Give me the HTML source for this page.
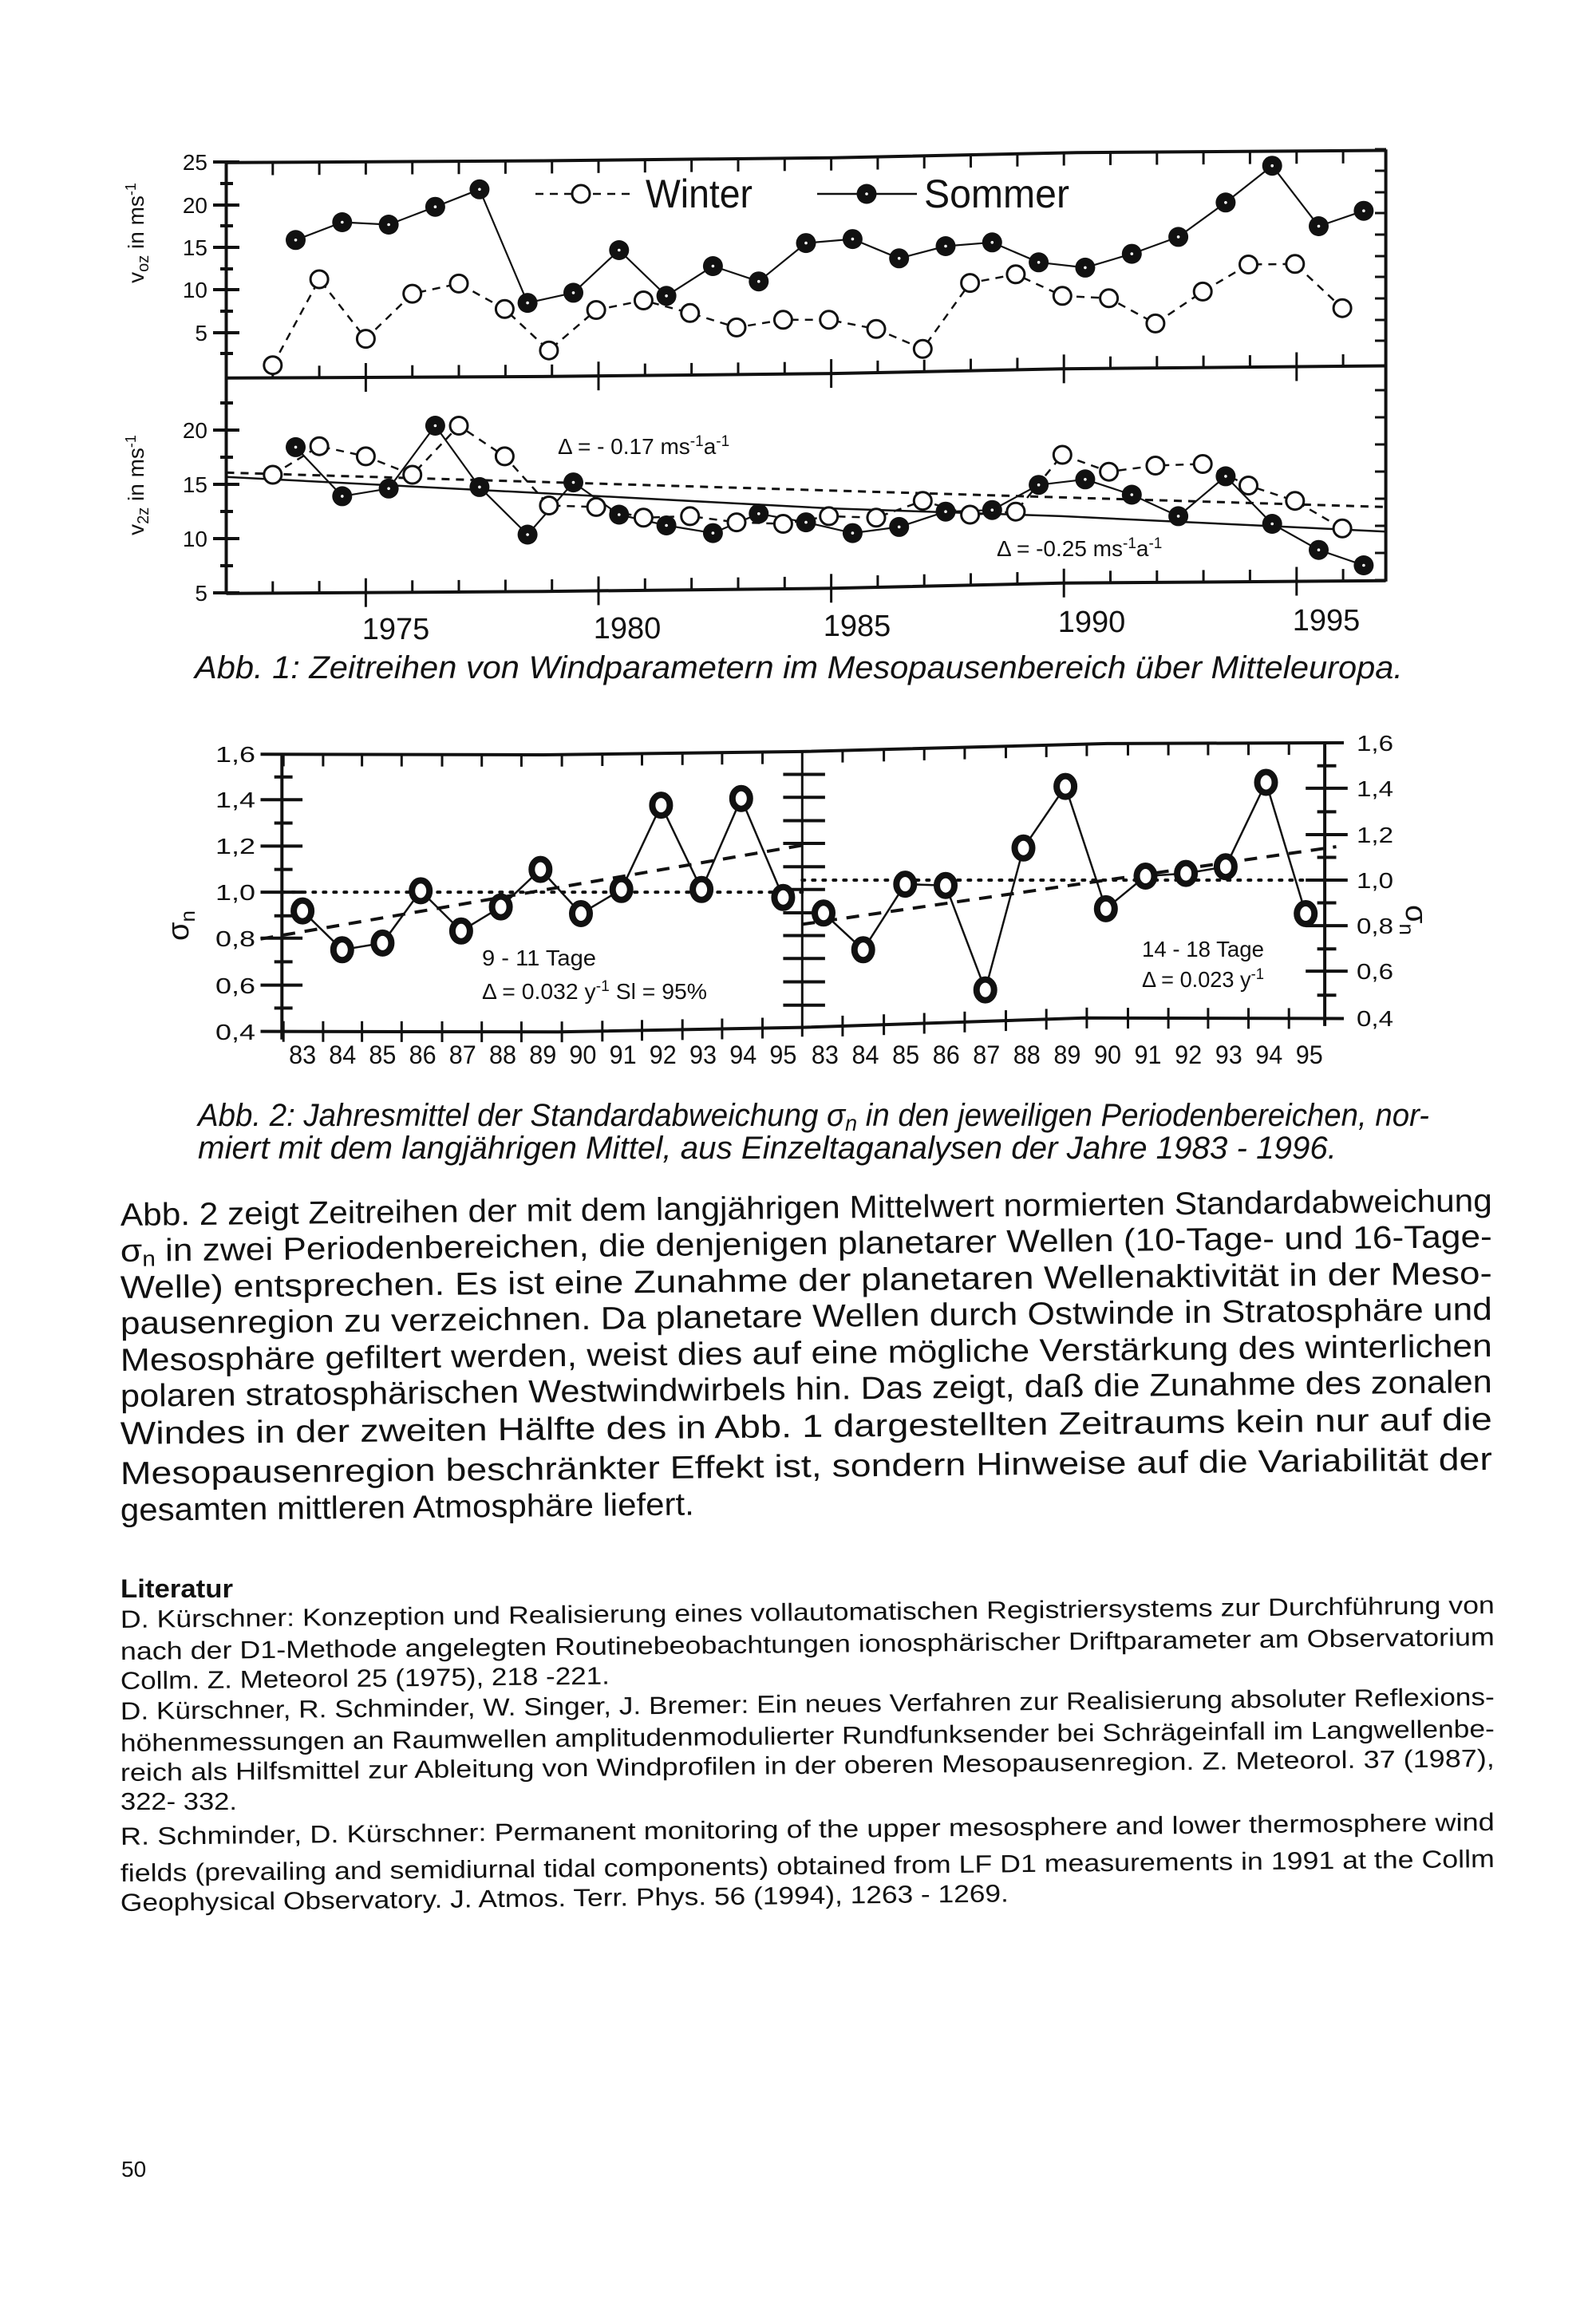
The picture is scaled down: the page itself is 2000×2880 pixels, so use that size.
<!DOCTYPE html>
<html><head><meta charset="utf-8"><style>
html,body{margin:0;padding:0;background:#fff;}
svg{display:block;}
text{font-family:"Liberation Sans",sans-serif;fill:#111;}
</style></head><body>
<svg id="s" xmlns="http://www.w3.org/2000/svg" width="2000" height="2880" viewBox="0 0 2000 2880">
<rect width="2000" height="2880" fill="#fff"/>
<g id="g"></g>

<g font-size="28">
<text x="260" y="213" text-anchor="end">25</text>
<text x="260" y="267" text-anchor="end">20</text>
<text x="260" y="320" text-anchor="end">15</text>
<text x="260" y="373" text-anchor="end">10</text>
<text x="260" y="427" text-anchor="end">5</text>
<text x="260" y="549" text-anchor="end">20</text>
<text x="260" y="617" text-anchor="end">15</text>
<text x="260" y="685" text-anchor="end">10</text>
<text x="260" y="753" text-anchor="end">5</text>
</g>
<text transform="translate(180,292) rotate(-90)" text-anchor="middle" font-size="28">v<tspan font-size="20" dy="6">oz</tspan><tspan dy="-6"> in ms</tspan><tspan font-size="18" dy="-10">-1</tspan></text>
<text transform="translate(180,608) rotate(-90)" text-anchor="middle" font-size="28">v<tspan font-size="20" dy="6">2z</tspan><tspan dy="-6"> in ms</tspan><tspan font-size="18" dy="-10">-1</tspan></text>
<text x="809" y="260" font-size="50" textLength="134" lengthAdjust="spacingAndGlyphs">Winter</text>
<text x="1158" y="260" font-size="50" textLength="182" lengthAdjust="spacingAndGlyphs">Sommer</text>
<text x="699" y="569" font-size="28">Δ = - 0.17 ms<tspan font-size="19" dy="-10">-1</tspan><tspan dy="10">a</tspan><tspan font-size="19" dy="-10">-1</tspan></text>
<text x="1249" y="697" font-size="28">Δ = -0.25 ms<tspan font-size="19" dy="-10">-1</tspan><tspan dy="10">a</tspan><tspan font-size="19" dy="-10">-1</tspan></text>
<g font-size="38" text-anchor="middle">
<text x="496" y="801">1975</text><text x="786" y="800">1980</text><text x="1074" y="797">1985</text><text x="1368" y="792">1990</text><text x="1662" y="790">1995</text>
</g>
<text x="244" y="850" font-size="40" font-style="italic" textLength="1514" lengthAdjust="spacingAndGlyphs">Abb. 1: Zeitreihen von Windparametern im Mesopausenbereich über Mitteleuropa.</text>

<g font-size="28">
<text x="270" y="955" textLength="50" lengthAdjust="spacingAndGlyphs">1,6</text>
<text x="270" y="1012" textLength="50" lengthAdjust="spacingAndGlyphs">1,4</text>
<text x="270" y="1070" textLength="50" lengthAdjust="spacingAndGlyphs">1,2</text>
<text x="270" y="1128" textLength="50" lengthAdjust="spacingAndGlyphs">1,0</text>
<text x="270" y="1186" textLength="50" lengthAdjust="spacingAndGlyphs">0,8</text>
<text x="270" y="1245" textLength="50" lengthAdjust="spacingAndGlyphs">0,6</text>
<text x="270" y="1303" textLength="50" lengthAdjust="spacingAndGlyphs">0,4</text>
<text x="1700" y="941" textLength="46" lengthAdjust="spacingAndGlyphs">1,6</text>
<text x="1700" y="998" textLength="46" lengthAdjust="spacingAndGlyphs">1,4</text>
<text x="1700" y="1056" textLength="46" lengthAdjust="spacingAndGlyphs">1,2</text>
<text x="1700" y="1113" textLength="46" lengthAdjust="spacingAndGlyphs">1,0</text>
<text x="1700" y="1170" textLength="46" lengthAdjust="spacingAndGlyphs">0,8</text>
<text x="1700" y="1227" textLength="46" lengthAdjust="spacingAndGlyphs">0,6</text>
<text x="1700" y="1286" textLength="46" lengthAdjust="spacingAndGlyphs">0,4</text>
</g>
<text transform="translate(236,1160) rotate(-90)" text-anchor="middle" font-size="38">σ<tspan font-size="26" dy="8">n</tspan></text>
<text transform="translate(1762,1153) rotate(90)" text-anchor="middle" font-size="38">σ<tspan font-size="26" dy="8">n</tspan></text>
<text x="604" y="1210" font-size="28" textLength="143" lengthAdjust="spacingAndGlyphs">9 - 11 Tage</text>
<text x="604" y="1252" font-size="28" textLength="282" lengthAdjust="spacingAndGlyphs">Δ = 0.032 y<tspan font-size="19" dy="-10">-1</tspan><tspan dy="10">  Sl = 95%</tspan></text>
<text x="1431" y="1199" font-size="28" textLength="153" lengthAdjust="spacingAndGlyphs">14 - 18 Tage</text>
<text x="1431" y="1237" font-size="28" textLength="153" lengthAdjust="spacingAndGlyphs">Δ = 0.023 y<tspan font-size="19" dy="-10">-1</tspan></text>
<g id="xl" font-size="32" text-anchor="middle"></g>
<text x="248" y="1411" font-size="40" font-style="italic" textLength="1543" lengthAdjust="spacingAndGlyphs">Abb. 2: Jahresmittel der Standardabweichung σ<tspan font-size="28" dy="6">n</tspan><tspan dy="-6"> in den jeweiligen Periodenbereichen, nor-</tspan></text>
<text x="248" y="1452" font-size="40" font-style="italic" textLength="1427" lengthAdjust="spacingAndGlyphs">miert mit dem langjährigen Mittel, aus Einzeltaganalysen der Jahre 1983 - 1996.</text>

<g font-size="40">
<text x="151" y="1536" transform="rotate(-0.6 151 1536)" textLength="1719" lengthAdjust="spacingAndGlyphs">Abb. 2 zeigt Zeitreihen der mit dem langjährigen Mittelwert normierten Standardabweichung</text>
<text x="151" y="1581" transform="rotate(-0.6 151 1581)" textLength="1719" lengthAdjust="spacingAndGlyphs">σ<tspan font-size="27" dy="6">n</tspan><tspan dy="-6"> in zwei Periodenbereichen, die denjenigen planetarer Wellen (10-Tage- und 16-Tage-</tspan></text>
<text x="151" y="1627" transform="rotate(-0.6 151 1627)" textLength="1719" lengthAdjust="spacingAndGlyphs">Welle) entsprechen. Es ist eine Zunahme der planetaren Wellenaktivität in der Meso-</text>
<text x="151" y="1672" transform="rotate(-0.6 151 1672)" textLength="1719" lengthAdjust="spacingAndGlyphs">pausenregion zu verzeichnen. Da planetare Wellen durch Ostwinde in Stratosphäre und</text>
<text x="151" y="1718" transform="rotate(-0.6 151 1718)" textLength="1719" lengthAdjust="spacingAndGlyphs">Mesosphäre gefiltert werden, weist dies auf eine mögliche Verstärkung des winterlichen</text>
<text x="151" y="1763" transform="rotate(-0.6 151 1763)" textLength="1719" lengthAdjust="spacingAndGlyphs">polaren stratosphärischen Westwindwirbels hin. Das zeigt, daß die Zunahme des zonalen</text>
<text x="151" y="1810" transform="rotate(-0.6 151 1810)" textLength="1719" lengthAdjust="spacingAndGlyphs">Windes in der zweiten Hälfte des in Abb. 1 dargestellten Zeitraums kein nur auf die</text>
<text x="151" y="1860" transform="rotate(-0.6 151 1860)" textLength="1719" lengthAdjust="spacingAndGlyphs">Mesopausenregion beschränkter Effekt ist, sondern Hinweise auf die Variabilität der</text>
<text x="151" y="1906" transform="rotate(-0.6 151 1906)" textLength="719" lengthAdjust="spacingAndGlyphs">gesamten mittleren Atmosphäre liefert.</text>
</g>
<text x="151" y="2002" font-size="32" font-weight="bold" textLength="141" lengthAdjust="spacingAndGlyphs">Literatur</text>
<g font-size="31">
<text x="151" y="2040" transform="rotate(-0.6 151 2040)" textLength="1722" lengthAdjust="spacingAndGlyphs">D. Kürschner: Konzeption und Realisierung eines vollautomatischen Registriersystems zur Durchführung von</text>
<text x="151" y="2080" transform="rotate(-0.6 151 2080)" textLength="1722" lengthAdjust="spacingAndGlyphs">nach der D1-Methode angelegten Routinebeobachtungen ionosphärischer Driftparameter am Observatorium</text>
<text x="151" y="2117" transform="rotate(-0.6 151 2117)" textLength="613" lengthAdjust="spacingAndGlyphs">Collm. Z. Meteorol 25 (1975), 218 -221.</text>
<text x="151" y="2155" transform="rotate(-0.6 151 2155)" textLength="1722" lengthAdjust="spacingAndGlyphs">D. Kürschner, R. Schminder, W. Singer, J. Bremer: Ein neues Verfahren zur Realisierung absoluter Reflexions-</text>
<text x="151" y="2195" transform="rotate(-0.6 151 2195)" textLength="1722" lengthAdjust="spacingAndGlyphs">höhenmessungen an Raumwellen amplitudenmodulierter Rundfunksender bei Schrägeinfall im Langwellenbe-</text>
<text x="151" y="2232" transform="rotate(-0.6 151 2232)" textLength="1722" lengthAdjust="spacingAndGlyphs">reich als Hilfsmittel zur Ableitung von Windprofilen in der oberen Mesopausenregion. Z. Meteorol. 37 (1987),</text>
<text x="151" y="2268" textLength="146" lengthAdjust="spacingAndGlyphs">322- 332.</text>
<text x="151" y="2312" transform="rotate(-0.6 151 2312)" textLength="1722" lengthAdjust="spacingAndGlyphs">R. Schminder, D. Kürschner: Permanent monitoring of the upper mesosphere and lower thermosphere wind</text>
<text x="151" y="2358" transform="rotate(-0.6 151 2358)" textLength="1722" lengthAdjust="spacingAndGlyphs">fields (prevailing and semidiurnal tidal components) obtained from LF D1 measurements in 1991 at the Collm</text>
<text x="151" y="2395" transform="rotate(-0.6 151 2395)" textLength="1113" lengthAdjust="spacingAndGlyphs">Geophysical Observatory. J. Atmos. Terr. Phys. 56 (1994), 1263 - 1269.</text>
</g>
<text x="152" y="2728" font-size="28">50</text>
</svg>
<script>
(function(){
var out=[];
function X1(z){return 250+z/1.046;} function Y1(z){return 170+z/2.6;}
function X2(z){return 250+z/1.046;} function Y2(z){return 900+z/2.98;}
function interp(poly,x){for(var i=0;i<poly.length-1;i++){var a=poly[i],b=poly[i+1];if(x>=a[0]&&x<=b[0]){return a[1]+(b[1]-a[1])*(x-a[0])/(b[0]-a[0]);}}return x<poly[0][0]?poly[0][1]:poly[poly.length-1][1];}
function ln(x1,y1,x2,y2,w,extra){out.push('<line x1="'+x1.toFixed(1)+'" y1="'+y1.toFixed(1)+'" x2="'+x2.toFixed(1)+'" y2="'+y2.toFixed(1)+'" stroke="#111" stroke-width="'+w+'" '+(extra||'')+'/>');}
function pl(pts,w,extra){out.push('<polyline fill="none" stroke="#111" stroke-width="'+w+'" stroke-linejoin="round" '+(extra||'')+' points="'+pts.map(function(p){return p[0].toFixed(1)+','+p[1].toFixed(1);}).join(' ')+'"/>');}
function m1(P){return P.map(function(p){return [X1(p[0]),Y1(p[1])];});}
function m2(P){return P.map(function(p){return [X2(p[0]),Y2(p[1])];});}
var top=[[35,88],[450,82],[830,72],[1150,55],[1555,48]];
var mid=[[35,790],[450,785],[830,775],[1130,760],[1555,750]];
var bot=[[35,1492],[450,1485],[830,1475],[1130,1458],[1555,1450]];
pl(m1(top),4);pl(m1(mid),4);pl(m1(bot),4);
ln(X1(35),Y1(85),X1(35),Y1(1495),4);ln(X1(1555),Y1(45),X1(1555),Y1(1453),4);
[203,230,257,283,310,337,363,390,417,443,505,539,573,607,641,675,709,743].forEach(function(y,i){
 var major=[203,257,310,363,417,539,607,675,743].indexOf(y)>=0;
 ln(major?267:276,y,major?300:292,y,4);
 ln(1737,y-16,1723,y-16,3);
});
for(var k=0;k<24;k++){var z=96+61*k;var maj=(k%5==2);var x=X1(z);
 var yt=Y1(interp(top,z)),ym=Y1(interp(mid,z)),yb=Y1(interp(bot,z));
 ln(x,yt,x,yt+16,3);
 ln(x,ym-(maj?18:15),x,ym+(maj?18:0),3);
 ln(x,yb-(maj?18:15),x,yb+(maj?18:0),3);
}
var sT=[[126,340],[187,282],[248,290],[309,232],[367,175],[430,545],[490,512],[550,373],[612,522],[673,425],[733,475],[795,350],[856,337],[917,400],[978,360],[1039,348],[1100,413],[1161,430],[1222,385],[1283,330],[1345,218],[1406,98],[1467,295],[1526,245]];
var wT=[[96,748],[157,468],[218,662],[279,515],[340,482],[400,565],[458,700],[520,568],[582,537],[643,578],[704,625],[765,600],[825,600],[887,630],[948,695],[1010,480],[1070,452],[1131,522],[1192,530],[1253,612],[1315,508],[1375,420],[1436,418],[1498,562]];
var sB=[[126,1015],[187,1175],[248,1150],[309,945],[367,1145],[430,1300],[490,1130],[550,1235],[612,1270],[673,1295],[733,1232],[795,1260],[856,1295],[917,1275],[978,1225],[1039,1220],[1100,1138],[1161,1120],[1222,1170],[1283,1240],[1345,1110],[1406,1265],[1467,1350],[1526,1400]];
var wB=[[96,1105],[157,1012],[218,1045],[279,1105],[340,945],[400,1045],[458,1205],[520,1210],[582,1245],[643,1240],[704,1260],[765,1265],[825,1240],[887,1245],[948,1190],[1010,1235],[1070,1225],[1131,1040],[1192,1095],[1253,1075],[1315,1070],[1375,1140],[1436,1190],[1498,1280]];
pl(m1([[35,1098],[1555,1210]]),3,'stroke-dasharray="10,8"');
pl(m1([[35,1112],[450,1165],[830,1215],[1130,1240],[1555,1290]]),2.5);
pl(m1(wT),2.5,'stroke-dasharray="10,8"');pl(m1(wB),2.5,'stroke-dasharray="10,8"');
pl(m1(sT),2.2);pl(m1(sB),2.2);
function open(x,y){out.push('<circle cx="'+x.toFixed(1)+'" cy="'+y.toFixed(1)+'" r="11" fill="#fff" stroke="#111" stroke-width="3"/>');}
function fill(x,y){out.push('<circle cx="'+x.toFixed(1)+'" cy="'+y.toFixed(1)+'" r="12.5" fill="#111"/><circle cx="'+x.toFixed(1)+'" cy="'+y.toFixed(1)+'" r="1.8" fill="#fff"/>');}
m1(wT).forEach(function(p){open(p[0],p[1]);});m1(wB).forEach(function(p){open(p[0],p[1]);});
m1(sT).forEach(function(p){fill(p[0],p[1]);});m1(sB).forEach(function(p){fill(p[0],p[1]);});
ln(671,243,790,243,2.5,'stroke-dasharray="10,8"');open(728,243);
ln(1024,243,1149,243,2.5);fill(1086,243);
var t2=[[80,135],[450,137],[790,125],[1190,95],[1500,92]];
var b2=[[80,1170],[470,1172],[790,1155],[1160,1120],[1500,1122]];
pl(m2(t2),4);pl(m2(b2),4);
ln(X2(108),Y2(135),X2(108),Y2(1200),4);ln(X2(790),Y2(125),X2(790),Y2(1190),3);ln(X2(1475),Y2(92),X2(1475),Y2(1150),4);
[220,305,392,478,565,650,738,822,910,997,1083].forEach(function(y){var big=[305,478,650,822,997].indexOf(y)>=0;ln(X2(big?80:98),Y2(y),X2(big?135:122),Y2(y),4);});
[210,296,383,468,555,640,727,812,898,985,1072].forEach(function(y){ln(X2(765),Y2(y),X2(820),Y2(y),4);});
[178,262,350,435,520,605,690,775,862,945,1035].forEach(function(y){var big=[262,435,605,775,945].indexOf(y)>=0;ln(X2(big?1450:1465),Y2(y),X2(big?1505:1490),Y2(y),4);});
var tk=[110,162,213,265,318,370,422,475,528,580,633,685,738,843,897,950,1003,1057,1110,1163,1217,1270,1322,1375,1428];
tk.forEach(function(z){var x=X2(z);var yt=Y2(interp(t2,z)),yb=Y2(interp(b2,z));ln(x,yt,x,yt+15,3);ln(x,yb-13,x,yb+13,3);});
pl(m2([[108,650],[790,650]]),4,'stroke-dasharray="3,10" stroke-linecap="round"');
pl(m2([[790,605],[1475,605]]),4,'stroke-dasharray="3,10" stroke-linecap="round"');
pl(m2([[80,825],[790,475]]),4,'stroke-dasharray="16,12"');
pl(m2([[790,770],[1490,480]]),4,'stroke-dasharray="16,12"');
var L=[[135,720],[187,865],[240,840],[290,645],[343,795],[395,705],[447,565],[500,730],[553,640],[605,325],[658,640],[710,300],[765,670]];
var R=[[818,728],[870,865],[925,620],[978,625],[1030,1015],[1080,485],[1135,255],[1188,712],[1240,590],[1293,580],[1345,555],[1398,240],[1450,730]];
pl(m2(L),2.5);pl(m2(R),2.5);
function ring(x,y){out.push('<ellipse cx="'+x.toFixed(1)+'" cy="'+y.toFixed(1)+'" rx="11" ry="13" fill="#fff" stroke="#111" stroke-width="8"/>');}
m2(L).forEach(function(p){ring(p[0],p[1]);});m2(R).forEach(function(p){ring(p[0],p[1]);});
document.getElementById('g').innerHTML=out.join('');
var xl=[];var yrs=['83','84','85','86','87','88','89','90','91','92','93','94','95'];
for(var i=0;i<13;i++){xl.push('<text x="'+X2(135+52.5*i).toFixed(1)+'" y="1333" textLength="34" lengthAdjust="spacingAndGlyphs">'+yrs[i]+'</text>');}
for(var i=0;i<13;i++){xl.push('<text x="'+X2(820+52.9*i).toFixed(1)+'" y="1333" textLength="34" lengthAdjust="spacingAndGlyphs">'+yrs[i]+'</text>');}
document.getElementById('xl').innerHTML=xl.join('');
})();
</script>
</body></html>
